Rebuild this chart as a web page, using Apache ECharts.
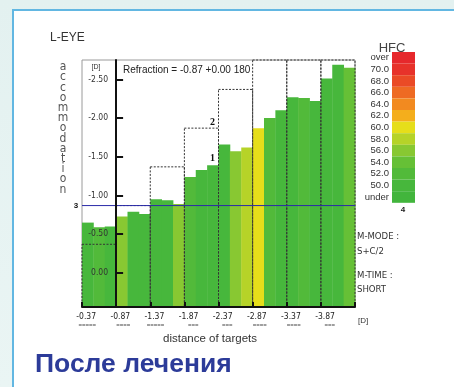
<!DOCTYPE html>
<html><head><meta charset="utf-8">
<script src="https://cdn.jsdelivr.net/npm/echarts@6/dist/echarts.min.js"></script>
<style>
html,body{margin:0;padding:0;background:#e6f3f2;}
#wrap{position:relative;width:454px;height:387px;overflow:hidden;background:linear-gradient(#e3f1f0,#eaf5f4);}
#panel{position:absolute;left:12px;top:9px;width:460px;height:400px;background:#fff;border-left:2px solid #62b7e2;border-top:2px solid #62b7e2;}
#chart{position:absolute;left:0;top:0;width:454px;height:387px;}
</style></head><body>
<div id="wrap"><div id="panel"></div><div id="chart"></div></div>
<script>
// ---- data ----
const targets = ['-0.37','-0.87','-1.37','-1.87','-2.37','-2.87','-3.37','-3.87'];
const targetValues = [-0.37,-0.87,-1.37,-1.87,-2.37,-2.87,-3.37,-3.87];
const targetMarks = ['=====','====','=====','===','===','====','====','==='];
const bar1 = [-0.65,-0.73,-0.95,-1.24,-1.66,-1.87,-2.27,-2.51];
const bar2 = [-0.59,-0.79,-0.94,-1.33,-1.57,-2.00,-2.26,-2.69];
const bar3 = [-0.60,-0.76,-0.89,-1.39,-1.62,-2.10,-2.22,-2.65];
const hfc1 = [51,56.5,51,53,51,60.5,51,51];
const hfc2 = [53,51,50.5,51,56.5,53,53,51];
const hfc3 = [51.5,51,56.5,51,58.5,51.5,51,54.5];
const yTicks = [-2.5,-2,-1.5,-1,-0.5,0];
const hfcBounds = [50,52,54,56,58,60,62,64,66,68,70,72];
const hfcLabels = ['under','50.0','52.0','54.0','56.0','58.0','60.0','62.0','64.0','66.0','68.0','70.0','over'];
const hfcColors = ['#42b53c','#47b73c','#52ba3a','#66c036','#88c832','#b6d328','#e6de1a','#f4ae1c','#f28a20','#ee6a23','#ea4a26','#e7322a','#e6282c'];
const refraction = -0.87;
const annotGroup = 3;
const annotLabels = ['1','2'];
const annotValues = [-1.48,-1.95];
const yMin = -2.75, yMax = 0.44;

// ---- build ----
const F = "'Liberation Sans', Arial, sans-serif";
const FN = "'Liberation Sans Narrow', 'DejaVu Sans Condensed', 'Liberation Sans', sans-serif";
const barData = [];
for (let i = 0; i < targets.length; i++) {
  barData.push([i,0,bar1[i],hfc1[i]],[i,1,bar2[i],hfc2[i]],[i,2,bar3[i],hfc3[i]]);
}
const pieces = [{lt: hfcBounds[0], label: hfcLabels[0], color: hfcColors[0]}];
for (let k = 0; k < hfcBounds.length - 1; k++) {
  pieces.push({gte: hfcBounds[k], lt: hfcBounds[k+1], label: hfcLabels[k+1], color: hfcColors[k+1]});
}
pieces.push({gte: hfcBounds[hfcBounds.length-1], label: hfcLabels[12], color: hfcColors[12]});

const chart = echarts.init(document.getElementById('chart'));
const letters = 'accommodation'.split('').join('\n');
const option = {
  animation: false,
  backgroundColor: 'transparent',
  grid: {left: 82, right: 99, top: 60, bottom: 80, show: true, borderColor: '#9a9a9a', borderWidth: 1, backgroundColor: '#fff'},
  xAxis: {
    type: 'category', data: targets, boundaryGap: true, z: 10,
    axisLine: {onZero: false, lineStyle: {color: '#111', width: 2}},
    axisTick: {show: true, inside: true, length: 5, lineStyle: {color: '#111', width: 2}},
    axisLabel: {interval: 0, margin: 5, align: 'right', padding: [0,3,0,0],
      formatter: (v, i) => `{a|${v}}\n{b|${targetMarks[i]}}`,
      rich: {a: {fontSize: 8.5, fontFamily: FN, color: '#222', lineHeight: 10, align: 'right'},
             b: {fontSize: 6, fontFamily: F, color: '#444', lineHeight: 6, align: 'right'}}},
    splitLine: {show: false}
  },
  yAxis: {
    type: 'value', inverse: true, min: yMin, max: yMax, position: 'left', offset: -34.1, z: 10,
    axisLine: {show: true, onZero: false, lineStyle: {color: '#111', width: 2}},
    axisTick: {show: true, inside: true, length: 7, customValues: yTicks, lineStyle: {color: '#111', width: 2}},
    axisLabel: {customValues: yTicks, formatter: v => v.toFixed(2), fontSize: 8.5, fontFamily: FN, color: '#333', margin: 8},
    splitLine: {show: false}
  },
  visualMap: {
    type: 'piecewise', seriesIndex: 0, dimension: 3, pieces: pieces, orient: 'vertical',
    right: 39, top: 52, padding: 0, itemWidth: 23, itemHeight: 11.6, itemGap: 0, itemSymbol: 'rect',
    align: 'right', showLabel: true, textGap: 3, selectedMode: false, hoverLink: false,
    textStyle: {fontSize: 9.5, color: '#333', fontFamily: F}
  },
  series: [
    {
      type: 'custom', z: 2, encode: {x: 0, y: 2}, data: barData,
      renderItem: (params, api) => {
        const i = api.value(0), s = api.value(1), v = api.value(2);
        const bw = api.size([1, 0])[0];
        const top = api.coord([i, v]);
        const bot = api.coord([i, yMax]);
        const w = bw / 3;
        return {type: 'rect', shape: {x: top[0] - bw/2 + s*w, y: top[1], width: w + 0.4, height: bot[1] - top[1]},
                style: {fill: api.visual('color')}};
      }
    },
    {
      type: 'custom', z: 3, encode: {x: 0, y: 1}, data: targetValues.map((v, i) => [i, v]),
      renderItem: (params, api) => {
        const i = api.value(0);
        const bw = api.size([1, 0])[0];
        const cs = params.coordSys;
        const c = api.coord([i, api.value(1)]);
        const b = api.coord([i, yMax]);
        const top = Math.max(c[1], cs.y);
        return {type: 'rect', shape: {x: c[0] - bw/2, y: top, width: bw, height: b[1] - top},
                style: {fill: 'none', stroke: '#333', lineWidth: 1, lineDash: [2, 1.5]}};
      }
    },
    {
      type: 'custom', z: 4, encode: {x: 0, y: 1}, data: [[0, refraction]],
      renderItem: (params, api) => {
        const cs = params.coordSys;
        const y = api.coord([0, api.value(1)])[1];
        return {type: 'group', children: [
          {type: 'line', shape: {x1: cs.x, y1: y, x2: cs.x + cs.width, y2: y}, style: {stroke: '#2a2aa8', lineWidth: 1}},
          {type: 'text', x: cs.x - 6, y: y, style: {text: '3', fontSize: 8, fontWeight: 'bold', fontFamily: F, fill: '#111', align: 'center', verticalAlign: 'middle'}}
        ]};
      }
    },
    {
      type: 'custom', z: 4, encode: {x: 0, y: 1}, data: annotValues.map(v => [annotGroup, v]),
      renderItem: (params, api) => {
        const c = api.coord([api.value(0), api.value(1)]);
        const bw = api.size([1, 0])[0];
        return {type: 'text', x: c[0] + bw/2 - 6, y: c[1],
                style: {text: annotLabels[params.dataIndex], fontSize: 10, fontWeight: 'bold', fontFamily: "'Liberation Serif', serif", fill: '#111', align: 'center', verticalAlign: 'middle'}};
      }
    }
  ],
  graphic: [
    {type: 'text', x: 50, y: 38, style: {text: 'L-EYE', fontSize: 12, fontFamily: F, fill: '#333', verticalAlign: 'middle'}},
    {type: 'text', x: 63, y: 62, style: {text: letters, fontSize: 12, lineHeight: 10.2, fontFamily: FN, fill: '#555', align: 'center', verticalAlign: 'top'}},
    {type: 'text', x: 96, y: 67, z: 20, style: {text: '[D]', fontSize: 7, fontFamily: F, fill: '#333', align: 'center', verticalAlign: 'middle'}},
    {type: 'text', x: 123, y: 70, z: 20, style: {text: 'Refraction = ' + refraction.toFixed(2) + ' +0.00 180', fontSize: 10, fontFamily: F, fill: '#222', verticalAlign: 'middle'}},
    {type: 'text', x: 357, y: 237, style: {text: 'M-MODE :', fontSize: 9.5, fontFamily: FN, fill: '#333', verticalAlign: 'middle'}},
    {type: 'text', x: 357, y: 252, style: {text: 'S+C/2', fontSize: 9.5, fontFamily: FN, fill: '#333', verticalAlign: 'middle'}},
    {type: 'text', x: 357, y: 276, style: {text: 'M-TIME :', fontSize: 9.5, fontFamily: FN, fill: '#333', verticalAlign: 'middle'}},
    {type: 'text', x: 357, y: 290, style: {text: 'SHORT', fontSize: 9.5, fontFamily: FN, fill: '#333', verticalAlign: 'middle'}},
    {type: 'text', x: 358, y: 321, style: {text: '[D]', fontSize: 8, fontFamily: F, fill: '#333', verticalAlign: 'middle'}},
    {type: 'text', x: 210, y: 339, style: {text: 'distance of targets', fontSize: 11.5, fontFamily: F, fill: '#333', align: 'center', verticalAlign: 'middle'}},
    {type: 'text', x: 392, y: 48, style: {text: 'HFC', fontSize: 13, fontFamily: F, fill: '#444', align: 'center', verticalAlign: 'middle'}},
    {type: 'text', x: 403, y: 210, style: {text: '4', fontSize: 8, fontWeight: 'bold', fontFamily: F, fill: '#222', align: 'center', verticalAlign: 'middle'}},
    {type: 'text', x: 35, y: 365, style: {text: 'После лечения', fontSize: 26.5, fontWeight: 'bold', fontFamily: F, fill: '#2c3b99', verticalAlign: 'middle'}}
  ]
};
chart.setOption(option);
</script>
</body></html>
